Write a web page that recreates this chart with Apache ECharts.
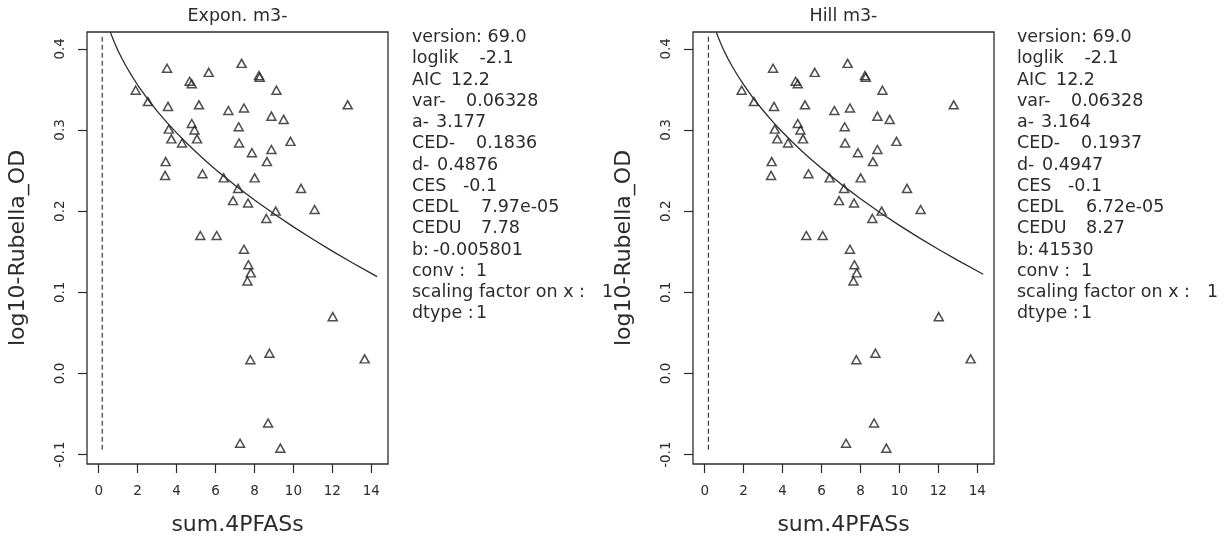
<!DOCTYPE html>
<html><head><meta charset="utf-8">
<script src="https://cdn.jsdelivr.net/npm/echarts@6/dist/echarts.min.js"></script>
<style>html,body{margin:0;padding:0;background:#fff}#c{width:1224px;height:541px}</style>
</head><body><div id="c"></div>
<script>
// ---- data ----
const doseX = [1.90, 2.53, 3.51, 3.56, 3.60, 3.73, 3.44, 3.41, 4.28, 4.67, 4.78, 5.15, 4.78, 4.92, 5.05, 5.33, 5.65, 5.22, 6.06, 6.42, 6.66, 7.19, 7.21, 7.34, 7.46, 7.16, 6.90, 7.67, 7.87, 8.01, 8.23, 8.27, 8.61, 8.64, 8.87, 8.87, 9.09, 9.13, 9.50, 9.85, 10.39, 11.09, 7.46, 12.79, 12.02, 13.66, 8.77, 7.79, 8.70, 7.26, 9.33, 7.69, 7.81, 7.64];
const responseY = [0.349, 0.335, 0.376, 0.329, 0.301, 0.289, 0.261, 0.244, 0.284, 0.360, 0.357, 0.331, 0.308, 0.300, 0.289, 0.246, 0.371, 0.170, 0.170, 0.241, 0.324, 0.304, 0.284, 0.382, 0.327, 0.228, 0.213, 0.210, 0.272, 0.241, 0.367, 0.365, 0.191, 0.261, 0.317, 0.276, 0.200, 0.349, 0.313, 0.286, 0.228, 0.202, 0.153, 0.331, 0.070, 0.018, 0.025, 0.017, -0.061, -0.086, -0.092, 0.134, 0.124, 0.114];

const curveX = [0.6, 0.7, 0.8, 0.9, 1.0, 1.2, 1.4, 1.7, 2.0, 2.5, 3.0, 3.5, 4.0, 4.5, 5.0, 5.5, 6, 7, 8, 9, 10, 11, 12, 13, 14, 14.3];
const exponCurveY = [0.4205, 0.4141, 0.4082, 0.4027, 0.3974, 0.3877, 0.3788, 0.3666, 0.3554, 0.3385, 0.3233, 0.3094, 0.2964, 0.2843, 0.2728, 0.2619, 0.2514, 0.2319, 0.2137, 0.1967, 0.1806, 0.1653, 0.1507, 0.1367, 0.1233, 0.1193];
const hillCurveY  = [0.4202, 0.4139, 0.4080, 0.4025, 0.3972, 0.3876, 0.3788, 0.3668, 0.3558, 0.3390, 0.3240, 0.3100, 0.2972, 0.2851, 0.2738, 0.2629, 0.2527, 0.2333, 0.2153, 0.1984, 0.1825, 0.1674, 0.1530, 0.1393, 0.1262, 0.1222];

const cedX = [0.18, 0.19];
const cedLineY = [-0.094, 0.415];

const xTicks = [0, 2, 4, 6, 8, 10, 12, 14];
const yTicks = [-0.1, 0.0, 0.1, 0.2, 0.3, 0.4];

const panelTitles = ['Expon. m3-', 'Hill m3-'];
const xTitle = 'sum.4PFASs';
const yTitle = 'log10-Rubella_OD';

const statLabels = ['version: 69.0', 'loglik', 'AIC', 'var-', 'a-', 'CED-', 'd-', 'CES', 'CEDL', 'CEDU', 'b:', 'conv :', 'scaling factor on x :', 'dtype :'];
const exponStats = ['', '-2.1', '12.2', '0.06328', '3.177', '0.1836', '0.4876', '-0.1', '7.97e-05', '7.78', '-0.005801', '1', '1', '1'];
const hillStats  = ['', '-2.1', '12.2', '0.06328', '3.164', '0.1937', '0.4947', '-0.1', '6.72e-05', '8.27', '41530', '1', '1', '1'];

// ---- layout ----
const FONT = '"DejaVu Sans", "Liberation Sans", sans-serif';
const INK = '#2b2b2b';
const gridLefts = [87, 693];
const gridTop = 32, gridW = 301, gridH = 432;
const xMin = -0.601, xMax = 14.859, yMin = -0.1115, yMax = 0.4207;
const valueOffsets = [0, 67.5, 39, 54, 24, 64, 25, 51, 69, 69, 21, 64, 190, 64];
const statsLeft = [412, 1017];
const statsTop = 37.5, statsStep = 21.25;

const grids = [], xAxes = [], yAxes = [], series = [], graphics = [];
const curves = [exponCurveY, hillCurveY];
const stats = [exponStats, hillStats];

for (let p = 0; p < 2; p++) {
  grids.push({left: gridLefts[p], top: gridTop, width: gridW, height: gridH, show: true,
    borderColor: INK, borderWidth: 1.3, backgroundColor: 'transparent'});
  xAxes.push({type: 'value', gridIndex: p, min: xMin, max: xMax, position: 'bottom',
    axisLine: {show: false, onZero: false}, splitLine: {show: false},
    axisTick: {show: true, length: 9, customValues: xTicks, lineStyle: {color: INK, width: 1.2}},
    axisLabel: {customValues: xTicks, margin: 20, fontSize: 13.5, color: INK, fontFamily: FONT,
      formatter: v => String(Math.round(v))}});
  yAxes.push({type: 'value', gridIndex: p, min: yMin, max: yMax, position: 'left',
    axisLine: {show: false, onZero: false}, splitLine: {show: false},
    axisTick: {show: true, length: 9, customValues: yTicks, lineStyle: {color: INK, width: 1.2}},
    axisLabel: {customValues: yTicks, rotate: 90, margin: 20, fontSize: 13.5, color: INK, fontFamily: FONT,
      formatter: v => v.toFixed(1)}});
  series.push({type: 'scatter', xAxisIndex: p, yAxisIndex: p, silent: true,
    symbol: 'triangle', symbolSize: [9, 8],
    itemStyle: {color: 'rgba(0,0,0,0)', borderColor: '#222', borderWidth: 1.5},
    data: doseX.map((x, i) => [x, responseY[i]])});
  series.push({type: 'line', xAxisIndex: p, yAxisIndex: p, silent: true, showSymbol: false,
    smooth: false, clip: true,
    lineStyle: {color: INK, width: 1.3},
    data: curveX.map((x, i) => [x, curves[p][i]])});
  series.push({type: 'line', xAxisIndex: p, yAxisIndex: p, silent: true, showSymbol: false,
    lineStyle: {color: INK, width: 1.1, type: [5, 3]},
    data: cedLineY.map(y => [cedX[p], y])});

  const cx = gridLefts[p] + gridW / 2;
  graphics.push({type: 'text', x: cx, y: 16, silent: true,
    style: {text: panelTitles[p], align: 'center', verticalAlign: 'middle', fontSize: 17.5, fontFamily: FONT, fill: INK}});
  graphics.push({type: 'text', x: cx, y: 525, silent: true,
    style: {text: xTitle, align: 'center', verticalAlign: 'middle', fontSize: 22, fontFamily: FONT, fill: INK}});
  graphics.push({type: 'text', x: gridLefts[p] - 69, y: gridTop + gridH / 2, rotation: Math.PI / 2, silent: true,
    style: {text: yTitle, align: 'center', verticalAlign: 'middle', fontSize: 22, fontFamily: FONT, fill: INK}});
  for (let i = 0; i < statLabels.length; i++) {
    const y = statsTop + i * statsStep;
    graphics.push({type: 'text', x: statsLeft[p], y: y, silent: true,
      style: {text: statLabels[i], align: 'left', verticalAlign: 'middle', fontSize: 17.5, fontFamily: FONT, fill: INK}});
    if (stats[p][i] !== '') {
      graphics.push({type: 'text', x: statsLeft[p] + valueOffsets[i], y: y, silent: true,
        style: {text: stats[p][i], align: 'left', verticalAlign: 'middle', fontSize: 17.5, fontFamily: FONT, fill: INK}});
    }
  }
}

const chart = echarts.init(document.getElementById('c'), null, {renderer: 'canvas'});
chart.setOption({
  animation: false,
  backgroundColor: '#fff',
  textStyle: {fontFamily: FONT},
  grid: grids, xAxis: xAxes, yAxis: yAxes, series: series, graphic: graphics
});
</script>
</body></html>
